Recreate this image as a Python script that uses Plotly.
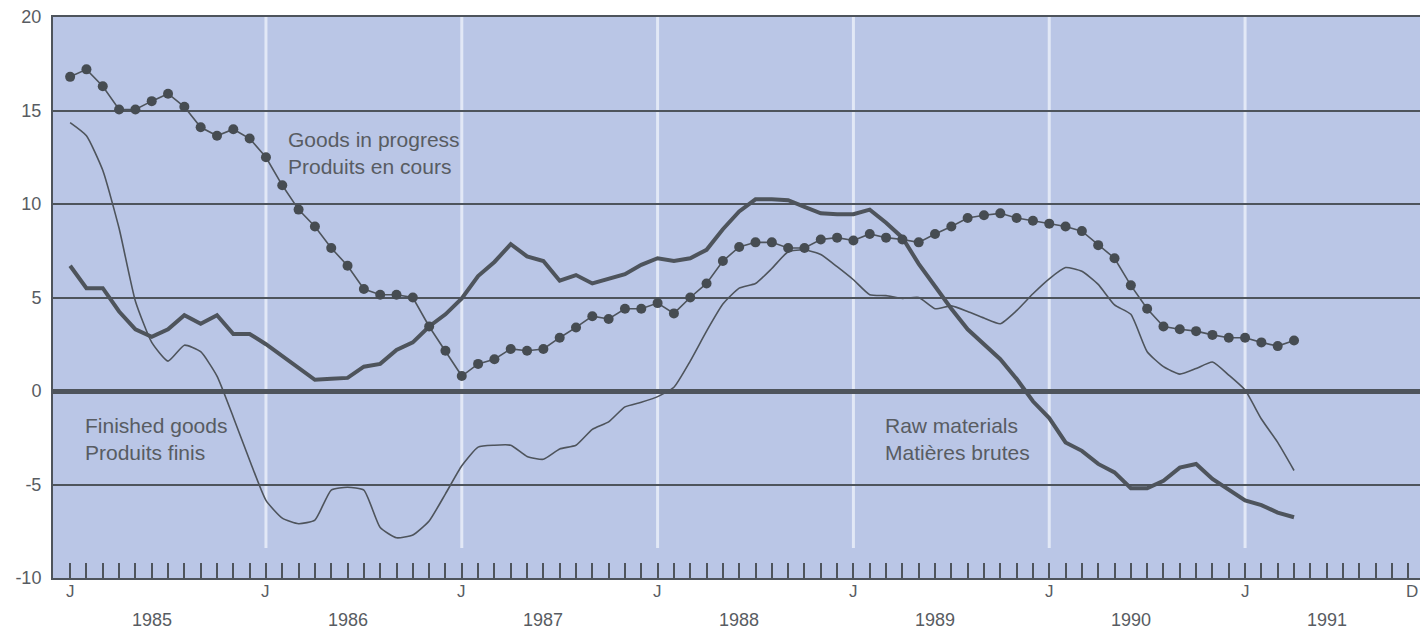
import plotly.graph_objects as go

# monthly index: 0 = Jan 1985
months = list(range(76))

goods_in_progress = [
    16.8, 17.2, 16.3, 15.05, 15.05, 15.5, 15.9, 15.2, 14.1, 13.65, 14.0, 13.5,
    12.5, 11.0, 9.7, 8.8, 7.65, 6.7, 5.45, 5.15, 5.15, 5.0, 3.45, 2.15,
    0.8, 1.45, 1.7, 2.25, 2.15, 2.25, 2.85, 3.4, 4.0, 3.85, 4.4, 4.4,
    4.7, 4.15, 5.0, 5.75, 6.95, 7.7, 7.95, 7.95, 7.65, 7.65, 8.1, 8.2,
    8.05, 8.4, 8.2, 8.1, 7.95, 8.4, 8.8, 9.25, 9.4, 9.5, 9.25, 9.1,
    8.95, 8.8, 8.55, 7.8, 7.1, 5.65, 4.4, 3.45, 3.3, 3.2, 3.0, 2.85,
    2.85, 2.6, 2.4, 2.7,
]

raw_materials = [
    6.7, 5.5, 5.5, 4.25, 3.3, 2.9, 3.3, 4.05, 3.6, 4.05, 3.05, 3.05,
    2.5, 1.85, 1.2, 0.6, 0.65, 0.7, 1.3, 1.45, 2.2, 2.6, 3.45, 4.1,
    4.95, 6.15, 6.9, 7.85, 7.2, 6.95, 5.9, 6.2, 5.75, 6.0, 6.25, 6.75,
    7.1, 6.95, 7.1, 7.55, 8.65, 9.6, 10.25, 10.25, 10.2, 9.85, 9.5, 9.45,
    9.45, 9.7, 9.0, 8.2, 6.8, 5.6, 4.4, 3.3, 2.5, 1.7, 0.65, -0.55,
    -1.45, -2.75, -3.2, -3.9, -4.35, -5.2, -5.2, -4.8, -4.1, -3.9, -4.7, -5.3,
    -5.85, -6.1, -6.5, -6.75,
]

finished_goods = [
    14.35, 13.65, 11.8, 8.7, 4.8, 2.6, 1.6, 2.45, 2.1, 0.8, -1.4, -3.7,
    -5.85, -6.8, -7.1, -6.9, -5.3, -5.15, -5.3, -7.3, -7.85, -7.7, -6.95, -5.5,
    -4.0, -3.0, -2.9, -2.9, -3.5, -3.65, -3.1, -2.9, -2.05, -1.65, -0.85, -0.6,
    -0.3, 0.2, 1.6, 3.2, 4.65, 5.5, 5.75, 6.55, 7.45, 7.55, 7.3, 6.65,
    5.95, 5.15, 5.1, 4.95, 5.0, 4.4, 4.55, 4.25, 3.9, 3.6, 4.3, 5.2,
    6.0, 6.6, 6.4, 5.7, 4.6, 4.1, 2.1, 1.3, 0.9, 1.2, 1.55, 0.85,
    0.05, -1.5, -2.75, -4.25,
]

y_ticks = [20, 15, 10, 5, 0, -5, -10]
y_text = ["20", "15", "10", "5", "0", "-5", "-10"]
month_labels = {0: "J", 12: "J", 24: "J", 36: "J", 48: "J", 60: "J", 72: "J"}
years = ["1985", "1986", "1987", "1988", "1989", "1990", "1991"]
year_starts = [0, 12, 24, 36, 48, 60, 72]

BG = "rgb(186,198,230)"
INK = "rgb(78,84,92)"
TXT = "rgb(88,92,98)"
FONT = "Liberation Sans, Arial, sans-serif"

fig = go.Figure()

fig.add_trace(go.Scatter(
    x=months, y=finished_goods, mode="lines",
    line=dict(color=INK, width=1.6, shape="spline", smoothing=0.5),
))
fig.add_trace(go.Scatter(
    x=months, y=raw_materials, mode="lines",
    line=dict(color=INK, width=4),
))
fig.add_trace(go.Scatter(
    x=months, y=goods_in_progress, mode="lines+markers",
    line=dict(color=INK, width=1.6),
    marker=dict(color="rgb(70,76,82)", size=10),
))

# white vertical separators at each January
for m in year_starts[1:]:
    fig.add_shape(type="line", xref="x", yref="y", x0=m, x1=m, y0=-8.4, y1=20,
                  line=dict(color="rgb(226,232,246)", width=3), layer="below")

for m, t in month_labels.items():
    fig.add_annotation(x=m, y=-10, xref="x", yref="y", text=t, showarrow=False,
                       yshift=-13, font=dict(size=17, color=TXT, family=FONT))
# "D" (December 1991) sits at the very right edge
fig.add_annotation(x=1, y=-10, xref="paper", yref="y", text="D", showarrow=False,
                   xanchor="right", yshift=-13, font=dict(size=17, color=TXT, family=FONT))
for m, t in zip(year_starts, years):
    fig.add_annotation(x=m + 5, y=-10, xref="x", yref="y", text=t, showarrow=False,
                       yshift=-42, font=dict(size=18, color=TXT, family=FONT))

labels = [
    (13.2, 12.75, "Goods in progress<br>Produits en cours"),
    (0.8, -2.55, "Finished goods<br>Produits finis"),
    (49.8, -2.55, "Raw materials<br>Matières brutes"),
]
for x, y, t in labels:
    fig.add_annotation(x=x, y=y, xref="x", yref="y", text=t, showarrow=False,
                       xanchor="left", align="left",
                       font=dict(size=21, color=TXT, family=FONT))

# page body adds an 8px margin, so the figure is sized to fit the window
fig.update_layout(
    width=1412, height=627,
    margin=dict(l=45, r=0, t=9, b=57, autoexpand=False),
    paper_bgcolor="white", plot_bgcolor=BG,
    showlegend=False,
    font=dict(family=FONT, color=TXT),
)
fig.update_xaxes(
    range=[-1.05, 82.72], showgrid=False, zeroline=False,
    showline=True, mirror=True, linecolor=INK, linewidth=2,
    tickvals=[], showticklabels=False,
    minor=dict(tickvals=list(range(84)), ticks="inside", ticklen=15,
               tickcolor=INK, tickwidth=1.5, showgrid=False),
)
fig.update_yaxes(
    range=[-10, 20], tickvals=y_ticks, ticktext=y_text,
    showgrid=True, gridcolor=INK, gridwidth=2,
    zeroline=True, zerolinecolor=INK, zerolinewidth=5,
    showline=True, linecolor=INK, linewidth=2,
    tickfont=dict(size=18, color=TXT, family=FONT), ticks="",
    ticklabeloverflow="allow", ticklabelstandoff=6,
)

fig.write_html("out.html")
